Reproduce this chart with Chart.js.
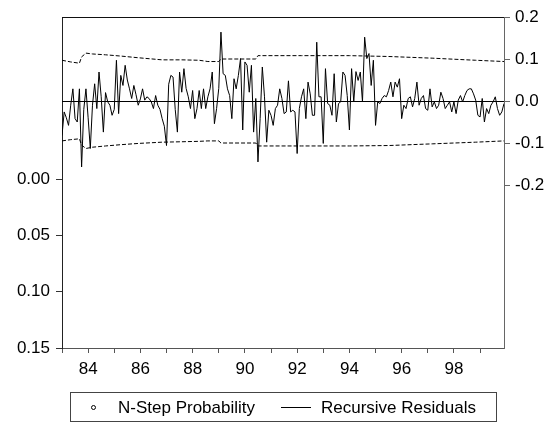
<!DOCTYPE html>
<html lang="en">
<head>
<meta charset="UTF-8">
<title>Recursive Residuals and N-Step Probability</title>
<script src="https://cdn.jsdelivr.net/npm/chart.js"></script>
<style>
    html, body { margin: 0; padding: 0; background: #fff; }
    .wrap { position: relative; width: 557px; height: 424px; }
    #legend {
        position: absolute; left: 70px; top: 392px; width: 427px; height: 30px;
        box-sizing: border-box; border: 1px solid #444;
        font: 17px "Liberation Sans", Arial, sans-serif; color: #000;
    }
    #legend span { position: absolute; }
    #legend .lab { top: 5px; white-space: nowrap; }
    #legend .dot { left: 20px; top: 12px; width: 3px; height: 3px; border: 1px solid #000; border-radius: 50%; }
    #legend .ln { left: 210px; top: 14px; width: 30px; border-top: 1px solid #000; }
</style>
</head>
<body>
<div class="wrap">
    <canvas id="chart"></canvas>
    <div id="legend">
        <span class="dot"></span><span class="lab" style="left:47px">N-Step Probability</span>
        <span class="ln"></span><span class="lab" style="left:250px">Recursive Residuals</span>
    </div>
</div>

<script>
    // monthly sample, first observation 1983M01
    const startYear = 1983;

    // recursive residuals, one value per month
    const residuals = [
        -0.082,-0.026,-0.040,-0.058,-0.010,0.029,-0.042,-0.050,0.029,-0.157,
        -0.020,0.029,-0.040,-0.113,-0.010,0.041,-0.018,0.069,0.010,-0.074,
        0.020,-0.002,-0.010,-0.034,-0.020,0.097,-0.030,0.061,0.037,0.085,
        0.050,0.029,0.006,0.037,0.015,-0.010,0.005,0.029,0.002,0.010,
        0.006,-0.002,-0.018,0.013,-0.010,-0.020,-0.042,-0.060,-0.106,0.040,
        0.061,0.057,-0.020,-0.074,0.069,0.021,0.077,0.030,0.010,-0.018,
        0.025,-0.042,-0.018,0.025,-0.018,0.029,-0.018,0.010,0.029,0.069,
        -0.054,-0.018,0.030,0.164,0.065,0.061,0.029,0.013,-0.042,0.053,
        0.029,0.061,0.101,-0.069,0.093,0.085,0.021,0.085,-0.074,0.006,
        -0.145,-0.042,0.081,0.010,-0.098,-0.022,-0.034,-0.058,-0.018,-0.010,
        0.029,0.006,-0.030,-0.026,0.048,-0.026,-0.022,-0.026,-0.125,-0.018,
        0.010,0.029,-0.042,0.045,0.017,-0.034,-0.034,0.140,0.010,0.010,
        -0.101,0.077,-0.006,-0.010,-0.034,0.065,-0.050,-0.006,-0.002,0.069,
        0.061,0.013,-0.069,0.077,-0.002,0.070,0.049,0.069,-0.002,0.152,
        0.101,0.113,0.037,0.097,-0.058,-0.002,-0.006,0.006,0.013,0.010,
        0.025,0.045,0.010,0.045,0.033,0.053,-0.042,-0.010,-0.018,0.006,
        0.010,-0.014,0.006,0.045,-0.010,0.006,0.013,-0.018,-0.022,0.029,
        -0.014,-0.002,-0.018,-0.010,0.021,0.006,-0.018,-0.010,-0.002,-0.026,
        -0.002,-0.030,0.002,0.013,-0.002,0.013,0.025,0.029,0.029,0.017,
        0.002,-0.034,-0.038,0.006,-0.050,-0.018,-0.030,-0.010,-0.002,0.010,
        -0.018,-0.034,-0.026,-0.006
    ];

    // +/- 2 S.E. bands, read at these month indexes
    const bandMonths = [0, 4, 8, 9, 11, 14, 20, 27, 35, 46, 55, 63, 67, 72, 73, 89, 90, 110, 132, 150, 170, 190, 203];
    const bandUpper = [0.097, 0.093, 0.090, 0.105, 0.114, 0.112, 0.110, 0.107, 0.103, 0.098, 0.098, 0.097, 0.094, 0.094, 0.100, 0.100, 0.108, 0.108, 0.108, 0.106, 0.102, 0.097, 0.094];
    const bandLower = [-0.095, -0.092, -0.090, -0.105, -0.113, -0.110, -0.107, -0.104, -0.101, -0.098, -0.097, -0.096, -0.095, -0.095, -0.100, -0.100, -0.107, -0.107, -0.107, -0.106, -0.102, -0.098, -0.095];

    // N-step probabilities: none fall inside the 0.00 - 0.15 window
    const probability = [];

    // axes
    const yearTicks = [1983,1984,1985,1986,1987,1988,1989,1990,1991,1992,1993,1994,1995,1996,1997,1998,1999];
    const yearLabels = ['', '84', '', '86', '', '88', '', '90', '', '92', '', '94', '', '96', '', '98', ''];
    const residTicks = [-0.2, -0.1, 0.0, 0.1, 0.2];
    const probTicks = [0.00, 0.05, 0.10, 0.15];

    const monthX = i => startYear + i / 12;
    const lastX = monthX(residuals.length - 1);

    const FONT = { family: '"Liberation Sans", Arial, sans-serif', size: 17 };

    const framePlugin = {
        id: 'frame',
        beforeDatasetsDraw(chart) {
            const { ctx, chartArea: a, scales } = chart;
            const y0 = Math.round(scales.yR.getPixelForValue(0)) + 0.5;
            ctx.save();
            ctx.strokeStyle = '#000';
            ctx.lineWidth = 1;
            ctx.beginPath();
            ctx.moveTo(a.left, y0);
            ctx.lineTo(a.right, y0);
            ctx.stroke();
            ctx.restore();
        },
        afterDraw(chart) {
            const { ctx, chartArea: a } = chart;
            ctx.save();
            ctx.strokeStyle = '#111';
            ctx.lineWidth = 1;
            ctx.beginPath();
            ctx.moveTo(a.left, Math.round(a.top) + 0.5);
            ctx.lineTo(a.right, Math.round(a.top) + 0.5);
            ctx.stroke();
            ctx.restore();
        }
    };

    new Chart(document.getElementById('chart'), {
        type: 'line',
        data: {
            datasets: [
                {
                    label: 'N-Step Probability',
                    data: probability,
                    yAxisID: 'yL',
                    showLine: false,
                    pointStyle: 'circle',
                    pointRadius: 2,
                    borderColor: '#000',
                    backgroundColor: '#fff'
                },
                {
                    label: 'Recursive Residuals',
                    data: residuals.map((v, i) => ({ x: monthX(i), y: v })),
                    yAxisID: 'yR',
                    borderColor: '#000',
                    borderWidth: 1,
                    pointRadius: 0,
                    tension: 0
                },
                {
                    label: 'upper',
                    data: bandMonths.map((m, i) => ({ x: monthX(m), y: bandUpper[i] })),
                    yAxisID: 'yR',
                    borderColor: '#000',
                    borderWidth: 1,
                    borderDash: [4, 2],
                    pointRadius: 0
                },
                {
                    label: 'lower',
                    data: bandMonths.map((m, i) => ({ x: monthX(m), y: bandLower[i] })),
                    yAxisID: 'yR',
                    borderColor: '#000',
                    borderWidth: 1,
                    borderDash: [4, 2],
                    pointRadius: 0
                }
            ]
        },
        options: {
            responsive: true,
            maintainAspectRatio: false,
            animation: false,
            layout: { padding: { left: 0, right: 0, top: 17, bottom: 46 } },
            plugins: { legend: { display: false }, tooltip: { enabled: false } },
            scales: {
                x: {
                    type: 'linear',
                    min: startYear,
                    max: lastX,
                    afterBuildTicks: s => { s.ticks = yearTicks.map(v => ({ value: v })); },
                    afterFit: s => { s.height = 30; },
                    ticks: {
                        autoSkip: false, maxRotation: 0, padding: 6, color: '#000', font: FONT,
                        callback: (v) => yearLabels[yearTicks.indexOf(v)] || ''
                    },
                    grid: { drawOnChartArea: false, drawTicks: true, tickLength: 5, color: '#555' },
                    border: { display: true, color: '#555' }
                },
                yL: {
                    type: 'linear',
                    position: 'left',
                    reverse: true,
                    min: -0.1438,
                    max: 0.15,
                    afterBuildTicks: s => { s.ticks = probTicks.map(v => ({ value: v })); },
                    afterFit: s => { s.width = 62; },
                    ticks: { padding: 6, color: '#000', font: FONT, callback: v => v.toFixed(2) },
                    grid: { drawOnChartArea: false, drawTicks: true, tickLength: 6, color: '#333' },
                    border: { display: true, color: '#222' }
                },
                yR: {
                    type: 'linear',
                    position: 'right',
                    min: -0.588,
                    max: 0.2,
                    afterBuildTicks: s => { s.ticks = residTicks.map(v => ({ value: v })); },
                    afterFit: s => { s.width = 53; },
                    ticks: { padding: 5, color: '#000', font: FONT, callback: v => v.toFixed(1) },
                    grid: { drawOnChartArea: false, drawTicks: true, tickLength: 6, color: '#666' },
                    border: { display: true, color: '#666' }
                }
            }
        },
        plugins: [framePlugin]
    });
</script>
</body>
</html>
